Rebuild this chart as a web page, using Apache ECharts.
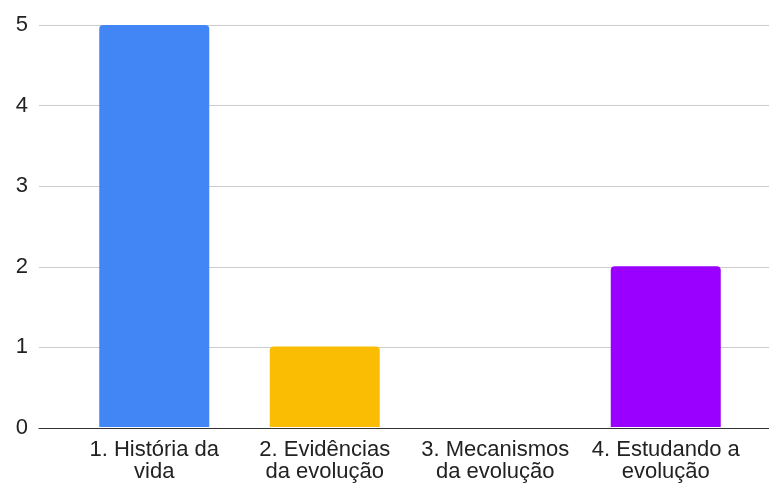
<!DOCTYPE html>
<html>
<head>
<meta charset="utf-8">
<script src="https://cdn.jsdelivr.net/npm/echarts@6/dist/echarts.min.js"></script>
<style>html,body{margin:0;padding:0;background:#fff;}#c{width:769px;height:483px;}</style>
</head>
<body>
<div id="c"></div>
<script>
const categories = ['1. História da\nvida', '2. Evidências\nda evolução', '3. Mecanismos\nda evolução', '4. Estudando a\nevolução'];
const values = [5, 1, 0, 2];
const barColors = ['#4285F4', '#FBBC04', '#34A853', '#9900FF'];
const yTicks = [0, 1, 2, 3, 4, 5];

const chart = echarts.init(document.getElementById('c'), null, {renderer: 'canvas'});
const font = 'Liberation Sans, Arial, sans-serif';
chart.setOption({
  animation: false,
  backgroundColor: '#fff',
  grid: [
    {left: 39, right: 0, top: 25, bottom: 55},
    {left: 69, right: 18, top: 25, bottom: 55}
  ],
  xAxis: [
    {gridIndex: 0, type: 'category', data: [''], axisLine: {show: true, lineStyle: {color: '#333', width: 1}}, axisTick: {show: false}, axisLabel: {show: false}, z: 5},
    {gridIndex: 1, type: 'category', data: categories, axisLine: {show: false}, axisTick: {show: false},
      axisLabel: {color: '#222', fontSize: 22, fontFamily: font, lineHeight: 22, margin: 12, interval: 0}}
  ],
  yAxis: [
    {gridIndex: 0, type: 'value', min: yTicks[0], max: yTicks[yTicks.length - 1], interval: 1,
      axisLine: {show: false}, axisTick: {show: false},
      splitLine: {lineStyle: {color: '#ccc', width: 1}},
      axisLabel: {color: '#222', fontSize: 22, fontFamily: font, margin: 11}},
    {gridIndex: 1, type: 'value', min: yTicks[0], max: yTicks[yTicks.length - 1], interval: 1, show: false, splitLine: {show: false}}
  ],
  series: [{
    type: 'bar', xAxisIndex: 1, yAxisIndex: 1, barWidth: 110,
    data: values.map((v, i) => ({value: v, itemStyle: {color: barColors[i], borderRadius: [4, 4, 0, 0]}}))
  }]
});
</script>
</body>
</html>
